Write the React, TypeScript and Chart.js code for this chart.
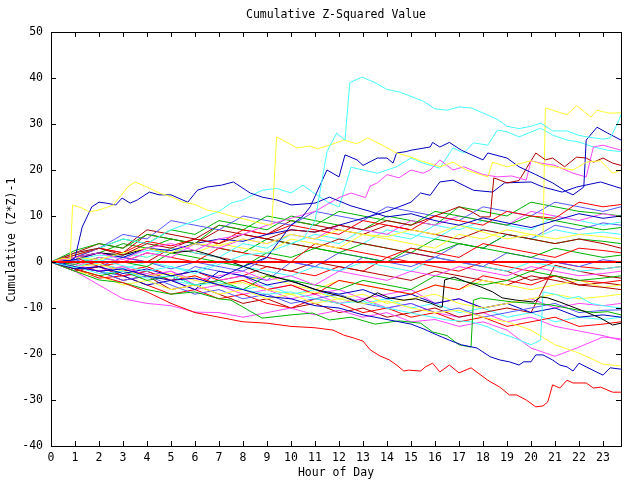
import React, { useEffect, useRef } from "react";
import { Chart, registerables } from "chart.js";

Chart.register(...registerables);

const FONT = "'DejaVu Sans Mono', 'Liberation Mono', monospace";
const TITLE = "Cumulative Z-Squared Value";
const X_TITLE = "Hour of Day";
const Y_TITLE = "Cumulative (Z*Z)-1";

const RED = "#ff0000";
const GREEN = "#00b400";
const BLUE = "#0000c0";
const PERI = "#5858ff";
const MAG = "#ff48ff";
const CYAN = "#48ffff";
const YEL = "#ffff30";
const DRED = "#b00000";
const BLACK = "#000000";

// common hourly grid
const HOURS = [0, 1, 2, 3, 4, 5, 6, 7, 8, 9, 10, 11, 12, 13, 14, 15, 16, 17, 18, 19, 20, 21, 22, 23, 23.75];
const ZERO_X = [0, 23.75];
const ZERO_Y = [0, 0];

// prominent series (own time points)
const cyanAX = [0, 1, 2, 3, 4, 5, 6, 7, 8, 9, 10, 10.5, 11, 11.5, 11.9, 12.25, 12.45, 12.96, 13.5, 14, 14.5, 15, 15.5, 16, 16.5, 17, 17.5, 18, 18.6, 19, 19.5, 20, 20.4, 20.9, 21.5, 22, 22.6, 23, 23.3, 23.6, 23.75];
const cyanAY = [0, -1.2, 0.5, -0.8, -2, -1, -2.5, -0.5, 1.5, 2, 4, 5, 9, 24, 28, 26.5, 39, 40.2, 39, 37.5, 37, 36, 35, 33.3, 33, 33.7, 33.5, 32.4, 31, 29.5, 29, 29.5, 30.2, 28.5, 28.5, 27.5, 27, 26.7, 27, 30, 32];

const yellowAX = [0, 0.5, 0.8, 0.9, 1.3, 1.6, 2, 2.6, 3.2, 3.5, 4, 4.5, 5, 5.5, 6, 6.5, 7, 7.5, 8, 8.5, 9, 9.2, 9.4, 10.25, 10.8, 11.1, 11.6, 12.2, 12.75, 13.2, 13.8, 14.4, 15, 15.4, 16.2, 16.75, 17.3, 18.2, 18.4, 19, 20, 20.6, 21.75, 22.3, 22.9, 23.4, 23.75];
const yellowAY = [0, 0.8, 0.5, 12.4, 11.7, 10.9, 11.3, 12.4, 16.3, 17.4, 16.3, 15, 14.2, 13, 12.5, 11.3, 10.8, 10, 9.4, 8.7, 8.2, 8, 27.2, 24.8, 25.2, 24.6, 25.4, 26.5, 25.7, 27, 25.4, 23.7, 22.8, 22, 20.7, 21.7, 20, 18.5, 21.7, 20.7, 22, 21, 20, 21.7, 22, 19.3, 20];

const blueAX = [0, 0.5, 1, 1.3, 1.7, 2, 2.3, 2.7, 2.96, 3.3, 3.6, 4.1, 4.5, 5, 5.7, 6.1, 6.5, 7.1, 7.6, 8.3, 8.8, 9.4, 10, 11, 11.6, 12.5, 13.3, 14, 15, 16, 17, 18, 19, 20, 21, 22, 23, 23.75];
const blueAY = [0, -0.5, 0.9, 7.6, 12, 13, 12.8, 12.4, 13.9, 12.8, 13.5, 15.2, 14.6, 14.6, 13, 15.6, 16.3, 16.7, 17.4, 15, 14.1, 13.5, 12.4, 12.8, 14.1, 12.2, 11, 9.8, 10.5, 9, 8, 9.6, 8.5, 7.5, 9, 10.5, 9.5, 10];

const blueBX = [0, 1, 2, 3, 4, 5, 6, 7, 8, 9, 10, 10.5, 10.8, 11.5, 12, 12.25, 12.75, 13, 13.6, 14, 14.25, 14.4, 14.8, 15, 15.8, 15.9, 16.2, 16.6, 17.1, 18, 18.2, 19, 19.5, 20.2, 20.9, 21.5, 21.75, 22.2, 22.3, 22.75, 23.2, 23.75];
const blueBY = [0, -1.5, -1, -2.5, -1.5, -3, -2, -3.5, -1, 1, 8, 10, 12, 20, 18.5, 23.3, 22.2, 21, 22.6, 22.6, 21.5, 23.7, 24, 24.3, 25, 26, 25, 26, 24.3, 22.2, 23.7, 22.6, 20.7, 19, 17.2, 15.2, 14.6, 16.3, 26.5, 29.3, 28, 26.5];

const magentaAX = [0, 1, 2, 3, 4, 5, 6, 7, 8, 9, 10, 11, 12, 12.5, 13.1, 13.3, 13.6, 14, 14.5, 15, 15.5, 15.8, 16.2, 16.75, 17.2, 18, 18.6, 19.2, 19.8, 20, 20.4, 21, 21.75, 22.3, 22.6, 23, 23.75];
const magentaAY = [0, 1, 2, 0.5, 3, 4, 2.5, 5, 6, 8, 9.5, 11, 14, 15, 14, 16.5, 17.2, 19, 18.3, 20, 19.3, 20, 22.2, 20, 20.7, 19, 18.5, 18.7, 17.8, 22, 21.5, 21, 19.3, 18.5, 25, 25.4, 24.3];

const darkRedAX = [0, 1, 2, 3, 4, 5, 6, 7, 8, 9, 10, 11, 12, 13, 14, 15, 16, 17, 17.5, 17.9, 18.3, 18.45, 19, 19.5, 20.2, 20.6, 20.9, 21.4, 21.9, 22.3, 22.6, 23, 23.4, 23.75];
const darkRedAY = [0, 2, 3, 1.5, 4, 3, 5, 4, 6, 5, 7, 6.5, 8, 7, 9, 8, 10, 12, 11, 9.8, 9.8, 18.3, 17.2, 17.7, 23.7, 22.2, 22.6, 20.7, 22.8, 22.6, 21.7, 22.6, 21.5, 21];

const yellowBX = [0, 1, 2, 3, 4, 5, 6, 7, 8, 9, 10, 11, 12, 13, 14, 15, 16, 17, 18, 19, 20, 20.5, 20.6, 21.5, 21.9, 22.5, 22.75, 23.2, 23.75];
const yellowBY = [0, 1, 0.5, 2, 3, 2, 4, 3.5, 5, 4, 6, 5, 7, 6, 5.5, 7, 6, 8, 6.5, 5, 6, 5.5, 33.5, 32, 34, 31.5, 33, 32.4, 32.4];

const cyanBX = [0, 1, 2, 3, 4, 5, 6, 7, 7.5, 8, 8.8, 9.4, 10, 10.5, 10.9, 11.6, 12, 12.3, 12.5, 13.6, 14.4, 15, 15.5, 16.2, 16.75, 17.2, 17.6, 18.2, 18.6, 19, 19.5, 20.4, 20.9, 21.5, 22, 22.6, 23.2, 23.75];
const cyanBY = [0, 2, 3, 5, 4, 7, 9, 11, 12.8, 13.5, 15.6, 16, 15, 16.7, 15.2, 12.8, 12, 17, 20.6, 19.3, 20.7, 22.6, 21.5, 20.4, 24.8, 23.7, 25.9, 25.4, 28.7, 28.3, 27.2, 29.1, 27.6, 26.5, 26.1, 25, 24.3, 24];

const redBottomX = [0, 1, 2, 3, 4, 5, 6, 7, 8, 9, 10, 11, 11.75, 12.2, 12.6, 13, 13.3, 13.7, 14.1, 14.4, 14.7, 14.9, 15.4, 15.6, 15.9, 16.2, 16.6, 17, 17.5, 18.2, 18.7, 19.1, 19.4, 19.8, 20.2, 20.5, 20.7, 20.9, 21.2, 21.5, 21.75, 22.3, 22.6, 22.9, 23.4, 23.75];
const redBottomY = [0, -1.5, -3, -4.5, -6.5, -9, -11, -12, -13, -13.3, -14, -14.3, -14.8, -15.9, -16.5, -17.2, -19.1, -20.4, -21.3, -22.4, -23.7, -23.5, -23.7, -22.8, -22, -23.9, -22.4, -24.1, -23, -25.7, -27.2, -28.9, -28.9, -30, -31.5, -31.3, -30.4, -26.7, -27.4, -25.7, -26.3, -26.3, -27.4, -27.2, -28.3, -28.3];

const blueBottomX = [0, 1, 2, 3, 4, 5, 6, 7, 8, 9, 10, 11, 12, 13, 14, 15, 15.5, 16.1, 16.6, 17.1, 17.75, 18.3, 18.7, 19.1, 19.5, 19.7, 20, 20.2, 20.5, 20.9, 21.2, 21.5, 21.75, 22, 22.3, 23, 23.3, 23.75];
const blueBottomY = [0, -1, -2, -1.5, -3, -4, -3.5, -5, -6, -7.5, -8, -9.5, -10, -11.5, -12.5, -13.5, -14.5, -15.9, -17, -18, -18.7, -20.6, -21.3, -21.7, -22.4, -21.7, -21.7, -20.2, -20.2, -21.3, -22.4, -22.8, -23.7, -22, -22.8, -24.6, -23, -23.3];

const blackX = [0, 1, 2, 3, 4, 5, 6, 7, 7.5, 8.8, 10.25, 11.1, 11.5, 12.2, 12.8, 13.3, 13.6, 14.1, 14.7, 15.2, 15.8, 16.2, 16.3, 16.4, 16.8, 17.3, 17.9, 18.4, 18.8, 19.4, 20.1, 20.4, 20.7, 21.2, 21.75, 22.3, 22.9, 23.4, 23.75];
const blackY = [0, 1, 2, 1.5, 3, 2, 2.5, 1, 0, -2.4, -4.6, -6.1, -6.7, -7.6, -8.8, -7.6, -6.7, -7.8, -8.3, -8, -8.9, -9.8, -9.8, -3.9, -3.3, -4.3, -5.4, -6.5, -7.8, -8.3, -8.7, -7.6, -7.8, -8.7, -9.8, -10.9, -12.2, -13.7, -13.3];

const greenJumpX = [0, 1, 2, 3, 4, 5, 6, 7, 7.5, 8.8, 10, 10.9, 11.6, 12.5, 13.5, 14.5, 15.4, 15.9, 16.5, 17, 17.5, 17.6, 17.9, 18.5, 19.25, 19.8, 20.8, 21.5, 22, 22.6, 23.2, 23.75];
const greenJumpY = [0, -2, -3.9, -4.5, -6, -7, -6.5, -8, -8.3, -12.2, -11.5, -11.1, -12.6, -12, -13.5, -12.8, -13.3, -15.2, -16, -18, -18.5, -8.3, -7.8, -8.2, -8.7, -8.9, -9.3, -10, -10.5, -11, -10.8, -11.5];

const cyanLowX = [0, 1, 2, 3, 4, 5, 6, 7, 8, 9, 10, 11, 12, 13, 14, 15.4, 16.5, 17.5, 18.2, 18.7, 19.3, 20, 20.4, 20.5, 21, 21.5, 22, 22.5, 23, 23.75];
const cyanLowY = [0, -1, -2.5, -2, -3.5, -3, -5, -4.5, -6, -7, -6.5, -8, -9, -8.5, -10, -11.5, -12.6, -13, -14.1, -15.4, -16.5, -18, -17, -6.5, -7, -8, -7.5, -9, -9.5, -10];

const blueMidX = [0, 1, 2, 3, 4, 5, 6, 7, 8, 9, 10, 11, 12, 13, 14, 15, 15.4, 15.8, 16.2, 16.75, 17.6, 18.4, 18.9, 20, 20.5, 21.3, 21.9, 22.9, 23.75];
const blueMidY = [0, 0.5, 2, 1, 3, 2.5, 4, 5, 4.5, 6, 7, 6.5, 8, 9.5, 11, 13, 15, 14.5, 17.4, 17.8, 15.6, 15.2, 17.2, 17.4, 16.3, 15.2, 16.3, 17.4, 16];

// hourly series (on HOURS)
const yellowBottom = [0, -1, -0.5, -2, -3, -2.5, -4, -5, -4.5, -6, -7, -6.5, -8, -9, -8.5, -10, -11, -10.5, -12, -13, -14.8, -18, -19.8, -22.2, -22.6];
const magentaBottom = [0, -2, -5, -8, -9, -9.5, -10.9, -11, -12, -11, -10, -11.5, -10.5, -12, -11, -13, -12.5, -14, -13, -14.8, -18.7, -20.5, -18.5, -16.3, -16.7];
const t1 = [0, 1.5, 3, 2, 4.5, 3.5, 5, 4, 7, 6, 8, 7, 6, 9, 8, 7, 10, 9, 8, 11, 10, 9.5, 13, 12, 12.5];
const t2 = [0, 2.5, 4, 3, 6, 5, 4, 8, 7, 10, 9, 8, 11, 10, 9, 8, 11, 10, 9, 8, 10, 9, 8, 7, 7.5];
const t3 = [0, 1, 3, 6, 5, 9, 8, 7, 10, 9, 8, 11, 10, 9, 12, 11, 10, 9, 12, 11, 10, 13, 12, 11, 12];
const t4 = [0, -1, 1, 0, 2, 1, 4, 3, 5, 4, 6, 5, 8, 7, 6, 9, 8, 10, 9, 8, 11, 10, 9, 10.5, 9.8];
const t5 = [0, 1, 0, 2, 1, 3, 2, 1, 4, 3, 6, 5, 4, 7, 6, 5, 8, 7, 9, 8, 7, 10, 9, 8, 8.7];
const t6 = [0, -1, 0.5, 2, 1, 3, 2, 4, 3, 2, 5, 4, 3, 6, 5, 4, 3, 6, 5, 7, 6, 5, 6, 5.5, 5];
const t7 = [0, 2, 4, 3, 7, 6, 5, 8, 7, 6, 9, 8, 7, 6, 8, 7, 6, 5, 7, 6, 5, 4, 5, 4, 3];
const t8 = [0, 1, -1, 0, 2, 1, 0, 3, 2, 1, 0, 4, 3, 2, 1, 3, 2, 1, 4, 3, 2, 1, 3, 2.5, 2];
const t9 = [0, -0.5, 1, 0, -1, 2, 1, 0, -1, 2, 1, 3, 2, 1, 0, 3, 2, 4, 3, 2, 1, 3, 2, 1, 1.5];
const t10 = [0, 0.5, -1, 1, 0, -1.5, 0, -1, -2, 1, 0, -1, 2, 1, 0, -1, 1, 0, -1, 2, 1, 0, -1, 0.5, 0];
const t11 = [0, -1, -2, -1, -3, -2, -4, -3, -2, -4, -3, -5, -2, -3, -4, -2, -3, -1, -2, -3, -1, -2, -3, -2.5, -2];
const t12 = [0, 1, -0.5, -1.5, 0, -1, -2, 0, -1, -2, -3, -1, -2, 0, -1, -2, 1, 0, -1, -2, 0, -1, -2, -1.5, -1];
const t13 = [0, -1.5, -3, -2, -4, -3, -5, -4, -6, -3, -4, -5, -6, -4, -5, -6, -3, -4, -5, -4, -2, -3, -4, -3.5, -3];
const t14 = [0, -2, -1, -3, -2, -4, -3, -5, -4, -6, -5, -7, -4, -5, -6, -7, -5, -6, -3, -4, -5, -3, -4, -4.5, -4];
const t15 = [0, 1, 3, 2, 6, 5, 4, 7, 6, 5, 4, 3, 5, 4, 3, 2, 1, 0, -1, -2, -4, -3, -5, -5.5, -6];
const t16 = [0, -2, -3, -5, -4, -6, -5, -7, -6, -8, -7, -9, -8, -7, -9, -8, -7, -9, -10, -9, -8, -7, -8, -7.5, -7];
const t17 = [0, -1, -2, -4, -3, -5, -7, -6, -8, -7, -9, -8, -7, -9, -10, -9, -11, -10, -12, -11, -10, -9, -11, -10.5, -10.4];
const t18 = [0, -2, -1, -3, -5, -4, -6, -2, -3, -5, -4, -6, -7, -6, -8, -7, -9, -8, -10, -9, -11, -10, -12, -11.5, -12];
const t19 = [0, -1.5, -3.5, -3, -5, -7, -6, -8, -7, -9, -10, -8, -9, -11, -10, -12, -11, -13, -12, -14, -13, -12, -14, -13.5, -13];
const t20 = [0, -1, -2, -4, -3, -6, -5, -7, -9, -8, -10, -9, -11, -10, -12, -11, -10, -12, -11, -10, -11, -0.7, -2, -3, -3.5];
const t21 = [0, -0.5, -2, -1, -3, -2, -5, -4, -3, -6, -5, -7, -6, -8, -7, -6, -9, -8, -10, -9, -8, -10, -9, -9.5, -9];
const t22 = [0, 1, 2, 4, 3, 5, 4, 3, 2, 5, 4, 3, 2, 4, 3, 2, 5, 4, 3, 6, 5, 4, 5, 4.5, 4];
const t23 = [0, -1, -2, -1, -3, -4, -3, -5, -4, -3, -5, -6, -4, -5, -6, -7, -5, -6, -4, -5, -6, -5, -4, -5.5, -5];
const t24 = [0, 0.5, 1.5, 1, 2.5, 2, 4, 3, 2, 5, 4, 6, 5, 4, 7, 6, 5, 8, 7, 6, 5, 7, 6, 6.5, 6];
const t25 = [0, 1.5, 3, 5, 4, 7, 6, 9, 8, 7, 10, 9, 8, 7, 10, 9, 8, 12, 11, 10, 13, 12, 11, 10.5, 10];
const t26 = [0, -1, -2, -3, -2, -4, -1, -2, -3, -4, 0, -1, -2, 1, 0, 2, 1, 4, 3, 6, 5, 8, 7, 8.5, 8];
const t27 = [0, 0.5, 2, 1, 0, 3, 2, 1, 0, -1, -2, 0, -1, -2, -3, -4, -2, -3, -4, -5, -3, -4, -5, -4.5, -5];
const t28 = [0, -1.5, -1, -3, -2.5, -4, -6, -5, -7, -6, -8, -7, -9, -8, -10, -9, -11, -12, -11, -13, -12, -14, -15, -16, -17];
const t29 = [0, -1, 0, -2, -1, -3, -2, -4, -3, -1, -2, -3, -1, -2, 1, 0, -1, -2, 0, -1, -2, 0, -1, -1.5, -1];
const t30 = [0, -1, -2, -3, -2, -4, -5, -4, -6, -5, -7, -6, -8, -9, -8, -10, -9, -11, -10, -12, -11, -13, -12, -12.5, -12];

const X_TICKS = [0, 1, 2, 3, 4, 5, 6, 7, 8, 9, 10, 11, 12, 13, 14, 15, 16, 17, 18, 19, 20, 21, 22, 23];
const Y_TICKS = [-40, -30, -20, -10, 0, 10, 20, 30, 40, 50];

const pts = (xs: number[], ys: number[]) => xs.map((x, i) => ({ x, y: ys[i] }));

export default function App() {
  const ref = useRef<HTMLCanvasElement>(null);

  useEffect(() => {
    const canvas = ref.current;
    if (!canvas) return;

    const series: { x: number[]; y: number[]; c: string }[] = [
      { x: cyanAX, y: cyanAY, c: CYAN },
      { x: yellowAX, y: yellowAY, c: YEL },
      { x: blueAX, y: blueAY, c: BLUE },
      { x: blueBX, y: blueBY, c: BLUE },
      { x: magentaAX, y: magentaAY, c: MAG },
      { x: darkRedAX, y: darkRedAY, c: DRED },
      { x: yellowBX, y: yellowBY, c: YEL },
      { x: cyanBX, y: cyanBY, c: CYAN },
      { x: redBottomX, y: redBottomY, c: RED },
      { x: blueBottomX, y: blueBottomY, c: BLUE },
      { x: blackX, y: blackY, c: BLACK },
      { x: greenJumpX, y: greenJumpY, c: GREEN },
      { x: cyanLowX, y: cyanLowY, c: CYAN },
      { x: blueMidX, y: blueMidY, c: BLUE },
      { x: HOURS, y: yellowBottom, c: YEL },
      { x: HOURS, y: magentaBottom, c: MAG },
      { x: HOURS, y: t1, c: RED },
      { x: HOURS, y: t2, c: GREEN },
      { x: HOURS, y: t3, c: PERI },
      { x: HOURS, y: t4, c: MAG },
      { x: HOURS, y: t5, c: CYAN },
      { x: HOURS, y: t6, c: YEL },
      { x: HOURS, y: t7, c: DRED },
      { x: HOURS, y: t8, c: RED },
      { x: HOURS, y: t9, c: GREEN },
      { x: HOURS, y: t10, c: PERI },
      { x: HOURS, y: t11, c: MAG },
      { x: HOURS, y: t12, c: CYAN },
      { x: HOURS, y: t13, c: GREEN },
      { x: HOURS, y: t14, c: RED },
      { x: HOURS, y: t15, c: DRED },
      { x: HOURS, y: t16, c: YEL },
      { x: HOURS, y: t17, c: PERI },
      { x: HOURS, y: t18, c: BLUE },
      { x: HOURS, y: t19, c: RED },
      { x: HOURS, y: t20, c: DRED },
      { x: HOURS, y: t21, c: MAG },
      { x: HOURS, y: t22, c: GREEN },
      { x: HOURS, y: t23, c: YEL },
      { x: HOURS, y: t24, c: CYAN },
      { x: HOURS, y: t25, c: GREEN },
      { x: HOURS, y: t26, c: PERI },
      { x: HOURS, y: t27, c: DRED },
      { x: HOURS, y: t28, c: MAG },
      { x: HOURS, y: t29, c: RED },
      { x: HOURS, y: t30, c: CYAN },
    ];

    const datasets: any[] = [
      {
        data: pts(ZERO_X, ZERO_Y),
        borderColor: RED,
        borderWidth: 2,
        pointRadius: 0,
        fill: false,
      },
      ...series.map((s) => ({
        data: pts(s.x, s.y),
        borderColor: s.c,
        borderWidth: 1,
        pointRadius: 0,
        fill: false,
        tension: 0,
      })),
    ];

    const framePlugin = {
      id: "frame",
      afterDraw(chart: any) {
        const { ctx, chartArea } = chart;
        const { left, right, top, bottom } = chartArea;
        const xs = chart.scales.x;
        const ys = chart.scales.y;
        ctx.save();
        ctx.strokeStyle = "#000";
        ctx.lineWidth = 1;
        ctx.strokeRect(left + 0.5, top + 0.5, right - left, bottom - top);
        ctx.beginPath();
        const TL = 5;
        X_TICKS.forEach((v) => {
          const px = Math.round(xs.getPixelForValue(v)) + 0.5;
          ctx.moveTo(px, bottom);
          ctx.lineTo(px, bottom - TL);
          ctx.moveTo(px, top);
          ctx.lineTo(px, top + TL);
        });
        Y_TICKS.forEach((v) => {
          const py = Math.round(ys.getPixelForValue(v)) + 0.5;
          ctx.moveTo(left, py);
          ctx.lineTo(left + TL, py);
          ctx.moveTo(right, py);
          ctx.lineTo(right - TL, py);
        });
        ctx.stroke();

        ctx.fillStyle = "#000";
        ctx.font = `11.5px ${FONT}`;
        ctx.textAlign = "center";
        ctx.textBaseline = "middle";
        const cx = (left + right) / 2;
        ctx.fillText(TITLE, cx, 15);
        ctx.fillText(X_TITLE, cx, 473);
        ctx.translate(12, 240);
        ctx.rotate(-Math.PI / 2);
        ctx.fillText(Y_TITLE, 0, 0);
        ctx.restore();
      },
    };

    const chart = new Chart(canvas, {
      type: "line",
      data: { datasets },
      options: {
        animation: false,
        responsive: false,
        maintainAspectRatio: false,
        layout: { padding: { top: 32, right: 19, left: 0, bottom: 0 } },
        plugins: {
          legend: { display: false },
          tooltip: { enabled: false },
          title: { display: false },
        },
        elements: { line: { tension: 0 } },
        scales: {
          x: {
            type: "linear",
            min: 0,
            max: 23.75,
            afterFit: (s: any) => {
              s.height = 34;
            },
            grid: { display: false, drawTicks: false },
            border: { display: false },
            ticks: {
              stepSize: 1,
              includeBounds: false,
              autoSkip: false,
              maxRotation: 0,
              color: "#000",
              padding: 5,
              font: { family: FONT, size: 11.5 },
            },
          },
          y: {
            type: "linear",
            min: -40,
            max: 50,
            afterFit: (s: any) => {
              s.width = 51;
            },
            grid: { display: false, drawTicks: false },
            border: { display: false },
            ticks: {
              stepSize: 10,
              autoSkip: false,
              color: "#000",
              padding: 8,
              font: { family: FONT, size: 11.5 },
            },
          },
        },
      },
      plugins: [framePlugin],
    });

    return () => chart.destroy();
  }, []);

  return (
    <div style={{ position: "fixed", left: 0, top: 0, width: 640, height: 480, background: "#fff" }}>
      <canvas ref={ref} width={640} height={480} style={{ display: "block", width: 640, height: 480 }} />
    </div>
  );
}
